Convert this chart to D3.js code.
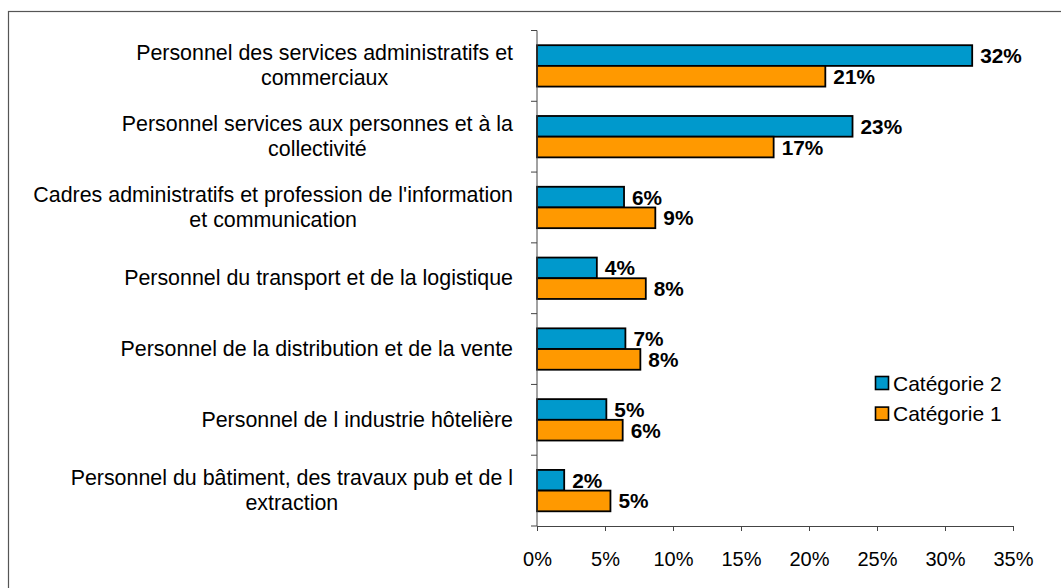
<!DOCTYPE html>
<html>
<head>
<meta charset="utf-8">
<script src="https://cdn.jsdelivr.net/npm/d3@7"></script>
<style>
  body { margin: 0; background: #fff; }
  svg { display: block; font-family: "Liberation Sans", Arial, sans-serif; }
</style>
</head>
<body>
<svg id="chart" width="1061" height="588"></svg>
<script>
// categories, top to bottom ("\n" = line break in the label)
const categories = [
    "Personnel des services administratifs et\ncommerciaux",
    "Personnel services aux personnes et à la\ncollectivité",
    "Cadres administratifs et profession de l'information\net communication",
    "Personnel du transport et de la logistique",
    "Personnel de la distribution et de la vente",
    "Personnel de l industrie hôtelière",
    "Personnel du bâtiment, des travaux pub et de l\nextraction"
];
// values in percent
const categorie2 = [32.0, 23.2, 6.4, 4.4, 6.5, 5.1, 2.0];
const categorie1 = [21.2, 17.4, 8.7, 8.0, 7.6, 6.3, 5.4];
const seriesNames = ["Catégorie 2", "Catégorie 1"];
const seriesColors = ["#0099cc", "#ff9900"];
const xTicks = [0, 5, 10, 15, 20, 25, 30, 35];

const svg = d3.select("#chart");

//outer frame (runs off the picture on the right and bottom)
svg.append("rect")
    .attr("x", 8.5).attr("y", 11.5)
    .attr("width", 2000).attr("height", 2000)
    .attr("fill", "none")
    .attr("stroke", "#555")
    .attr("stroke-width", 1.2);

const x = d3.scaleLinear().domain([0, 35]).range([537, 1013]);
const y = d3.scaleBand().domain(categories).range([30.5, 526]);
const ySub = d3.scaleBand().domain(seriesNames).range([0, y.bandwidth()])
    .paddingInner(0).paddingOuter(0.71);

//bars
const series = [categorie2, categorie1];
series.forEach((vals, s) => {
    const g = svg.append("g");
    g.selectAll("rect")
        .data(vals)
        .enter().append("rect")
        .attr("x", x(0))
        .attr("y", (d, i) => y(categories[i]) + ySub(seriesNames[s]))
        .attr("width", d => x(d) - x(0))
        .attr("height", ySub.bandwidth())
        .attr("fill", seriesColors[s])
        .attr("stroke", "#000")
        .attr("stroke-width", 1.8);

    //value labels
    g.selectAll("text")
        .data(vals)
        .enter().append("text")
        .attr("x", d => x(d) + 8)
        .attr("y", (d, i) => y(categories[i]) + ySub(seriesNames[s]) + ySub.bandwidth() / 2)
        .attr("dominant-baseline", "central")
        .attr("font-size", "20.8px")
        .attr("font-weight", "bold")
        .text(d => Math.round(d) + "%");
});

//x axis
const xAxis = svg.append("g")
    .attr("transform", "translate(0,526)")
    .call(d3.axisBottom(x).tickValues(xTicks).tickSize(5).tickSizeOuter(0)
        .tickPadding(21).tickFormat(d => d + "%"));
xAxis.selectAll("path, line").attr("stroke", "#444");
xAxis.selectAll("text").attr("font-size", "20px").attr("fill", "#000")
    .attr("font-family", "Liberation Sans, Arial, sans-serif");

//y axis line + ticks at the band edges
const yAxis = svg.append("g").attr("stroke", "#444");
yAxis.append("line")
    .attr("x1", x(0)).attr("x2", x(0))
    .attr("y1", y.range()[0]).attr("y2", y.range()[1]);
const edges = categories.map(c => y(c)).concat([y.range()[1]]);
yAxis.selectAll(".tick")
    .data(edges)
    .enter().append("line")
    .attr("x1", x(0) - 6).attr("x2", x(0))
    .attr("y1", d => d).attr("y2", d => d);

//category labels: each block right aligned near the axis, lines centered
const labelRight = 513;
const lineGap = 25;
categories.forEach(c => {
    const lines = c.split("\n");
    const t = svg.append("text")
        .attr("font-size", "21.4px")
        .attr("fill", "#000")
        .attr("text-anchor", "middle");
    const spans = lines.map((l, i) => t.append("tspan")
        .attr("y", y(c) + y.bandwidth() / 2 + (i - (lines.length - 1) / 2) * lineGap)
        .attr("dominant-baseline", "central")
        .text(l));
    const maxW = d3.max(spans, s => s.node().getComputedTextLength());
    spans.forEach(s => s.attr("x", labelRight - maxW / 2));
});

//legend
const legend = svg.append("g");
seriesNames.forEach((name, i) => {
    const ly = 383 + i * 30.6;
    legend.append("rect")
        .attr("x", 875.5).attr("y", ly - 6.5)
        .attr("width", 13).attr("height", 13)
        .attr("fill", seriesColors[i])
        .attr("stroke", "#000")
        .attr("stroke-width", 1.6);
    legend.append("text")
        .attr("x", 893).attr("y", ly)
        .attr("dominant-baseline", "central")
        .attr("font-size", "21px")
        .text(name);
});
</script>
</body>
</html>
